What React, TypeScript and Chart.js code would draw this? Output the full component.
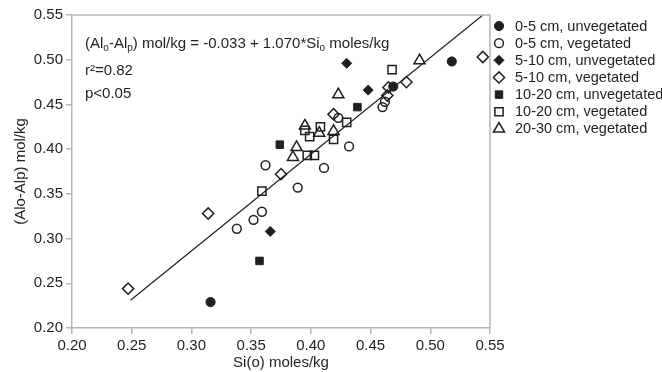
import React, { useEffect, useRef } from 'react';
import { Chart, registerables } from 'chart.js';
import { drawPoint } from 'chart.js/helpers';

Chart.register(...registerables);

// ---------- data ----------
const xTickValues = [0.2, 0.25, 0.3, 0.35, 0.4, 0.45, 0.5, 0.55];
const yTickValues = [0.2, 0.25, 0.3, 0.35, 0.4, 0.45, 0.5, 0.55];

const seriesLabels = [
  '0-5 cm, unvegetated',
  '0-5 cm, vegetated',
  '5-10 cm, unvegetated',
  '5-10 cm, vegetated',
  '10-20 cm, unvegetated',
  '10-20 cm, vegetated',
  '20-30 cm, vegetated',
];

const unveg05X = [0.316, 0.469, 0.518];
const unveg05Y = [0.229, 0.470, 0.498];

const veg05X = [0.338, 0.352, 0.359, 0.362, 0.389, 0.411, 0.423, 0.432, 0.460, 0.462];
const veg05Y = [0.311, 0.321, 0.330, 0.382, 0.357, 0.379, 0.435, 0.403, 0.447, 0.453];

const unveg510X = [0.366, 0.430, 0.448];
const unveg510Y = [0.308, 0.496, 0.466];

const veg510X = [0.247, 0.314, 0.375, 0.419, 0.464, 0.465, 0.480, 0.544];
const veg510Y = [0.244, 0.328, 0.372, 0.439, 0.460, 0.469, 0.475, 0.503];

const unveg1020X = [0.357, 0.374, 0.439];
const unveg1020Y = [0.275, 0.405, 0.447];

const veg1020X = [0.359, 0.395, 0.397, 0.399, 0.403, 0.408, 0.419, 0.430, 0.468];
const veg1020Y = [0.353, 0.421, 0.393, 0.414, 0.393, 0.425, 0.411, 0.430, 0.489];

const veg2030X = [0.385, 0.388, 0.395, 0.407, 0.419, 0.423, 0.491];
const veg2030Y = [0.391, 0.402, 0.426, 0.418, 0.420, 0.461, 0.499];

const fitX = [0.249, 0.544];
const fitY = [0.231, 0.55];

const xTitle = 'Si(o) moles/kg';
const yTitle = '(Alo-Alp) mol/kg';
const eqParts = [
  { t: '(Al' }, { t: 'o', sub: true }, { t: '-Al' }, { t: 'p', sub: true },
  { t: ') mol/kg = -0.033 + 1.070*Si' }, { t: 'o', sub: true }, { t: ' moles/kg' },
];
const r2Text = 'r\u00B2=0.82';
const pText = 'p<0.05';

// ---------- styles ----------
const FONT = '"Liberation Sans", Arial, Helvetica, sans-serif';
const INK = '#231f20';
const AXIS = '#b5b5b5';

const seriesX = [unveg05X, veg05X, unveg510X, veg510X, unveg1020X, veg1020X, veg2030X];
const seriesY = [unveg05Y, veg05Y, unveg510Y, veg510Y, unveg1020Y, veg1020Y, veg2030Y];
const seriesStyle = [
  { pointStyle: 'circle', filled: true, radius: 4.6 },
  { pointStyle: 'circle', filled: false, radius: 4.4 },
  { pointStyle: 'rectRot', filled: true, radius: 5 },
  { pointStyle: 'rectRot', filled: false, radius: 5.6 },
  { pointStyle: 'rect', filled: true, radius: 5.3 },
  { pointStyle: 'rect', filled: false, radius: 5.8 },
  { pointStyle: 'triangle', filled: false, radius: 6.4 },
];

const drawRich = (ctx: CanvasRenderingContext2D, parts: any[], x: number, y: number) => {
  let cx = x;
  for (const p of parts) {
    ctx.font = p.sub ? `10px ${FONT}` : `15px ${FONT}`;
    ctx.fillText(p.t, cx, p.sub ? y + 3 : y);
    cx += ctx.measureText(p.t).width;
  }
};

const decorPlugin = {
  id: 'decor',
  afterDraw(chart: any) {
    const ctx: CanvasRenderingContext2D = chart.ctx;
    const a = chart.chartArea;
    ctx.save();
    // frame top + right
    ctx.strokeStyle = AXIS;
    ctx.lineWidth = 1.5;
    ctx.beginPath();
    ctx.moveTo(a.left, a.top);
    ctx.lineTo(a.right, a.top);
    ctx.lineTo(a.right, a.bottom);
    ctx.stroke();

    // annotation
    ctx.fillStyle = INK;
    ctx.textBaseline = 'alphabetic';
    ctx.textAlign = 'left';
    drawRich(ctx, eqParts, a.left + 13, 48);
    ctx.font = `15px ${FONT}`;
    ctx.fillText(r2Text, a.left + 13, 75);
    ctx.fillText(pText, a.left + 13, 98);

    // legend
    const lx = a.right + 9;
    const tx = a.right + 25;
    seriesLabels.forEach((label, i) => {
      const s = seriesStyle[i];
      const y = 26 + i * 17.15;
      ctx.fillStyle = s.filled ? INK : 'rgba(0,0,0,0)';
      ctx.strokeStyle = INK;
      ctx.lineWidth = s.filled ? 1 : 1.5;
      drawPoint(ctx, { pointStyle: s.pointStyle, rotation: 0, radius: s.radius, borderWidth: ctx.lineWidth } as any, lx, y);
      ctx.fillStyle = INK;
      ctx.font = `14.5px ${FONT}`;
      ctx.textBaseline = 'middle';
      ctx.fillText(label, tx, y + 0.5);
    });
    ctx.restore();
  },
};

export default function App() {
  const ref = useRef<HTMLCanvasElement>(null);
  useEffect(() => {
    document.body.style.margin = '0';
    const datasets: any[] = seriesLabels.map((label, i) => {
      const s = seriesStyle[i];
      return {
        label,
        data: seriesX[i].map((x, k) => ({ x, y: seriesY[i][k] })),
        pointStyle: s.pointStyle,
        pointRadius: s.radius,
        pointHoverRadius: s.radius,
        pointBackgroundColor: s.filled ? INK : 'rgba(0,0,0,0)',
        pointBorderColor: INK,
        pointBorderWidth: s.filled ? 1 : 1.5,
        showLine: false,
      };
    });
    datasets.push({
      label: 'fit',
      data: fitX.map((x, k) => ({ x, y: fitY[k] })),
      showLine: true,
      borderColor: INK,
      borderWidth: 1.2,
      pointRadius: 0,
      fill: false,
    });
    const tickFont = { family: FONT, size: 15 };
    const chart = new Chart(ref.current!, {
      type: 'scatter',
      data: { datasets },
      plugins: [decorPlugin],
      options: {
        animation: false,
        responsive: false,
        devicePixelRatio: 1,
        layout: { padding: { top: 15, right: 172, left: 0, bottom: 0 } },
        plugins: { legend: { display: false }, tooltip: { enabled: false } },
        scales: {
          x: {
            type: 'linear',
            min: 0.2,
            max: 0.55,
            afterBuildTicks: (axis: any) => { axis.ticks = xTickValues.map((v) => ({ value: v })); },
            afterFit: (axis: any) => { axis.height = 44; },
            ticks: { callback: (v: any) => Number(v).toFixed(2), font: tickFont, color: INK, padding: 3, autoSkip: false, maxRotation: 0 },
            grid: { drawOnChartArea: false, drawTicks: true, tickLength: 6, color: AXIS, lineWidth: 1.5 },
            border: { display: true, color: AXIS, width: 1.5 },
            title: { display: true, text: xTitle, font: tickFont, color: INK, padding: { top: 0, bottom: 0 } },
          },
          y: {
            type: 'linear',
            min: 0.2,
            max: 0.55,
            afterBuildTicks: (axis: any) => { axis.ticks = yTickValues.map((v) => ({ value: v })); },
            afterFit: (axis: any) => { axis.width = 72; },
            ticks: { callback: (v: any) => Number(v).toFixed(2), font: tickFont, color: INK, padding: 3, autoSkip: false },
            grid: { drawOnChartArea: false, drawTicks: true, tickLength: 6, color: AXIS, lineWidth: 1.5 },
            border: { display: true, color: AXIS, width: 1.5 },
            title: { display: true, text: yTitle, font: tickFont, color: INK, padding: { top: 12, bottom: 0 } },
          },
        },
      } as any,
    });
    return () => chart.destroy();
  }, []);
  return (
    <div style={{ width: 662, height: 372 }}>
      <canvas ref={ref} width={662} height={372} style={{ display: 'block' }} />
    </div>
  );
}
